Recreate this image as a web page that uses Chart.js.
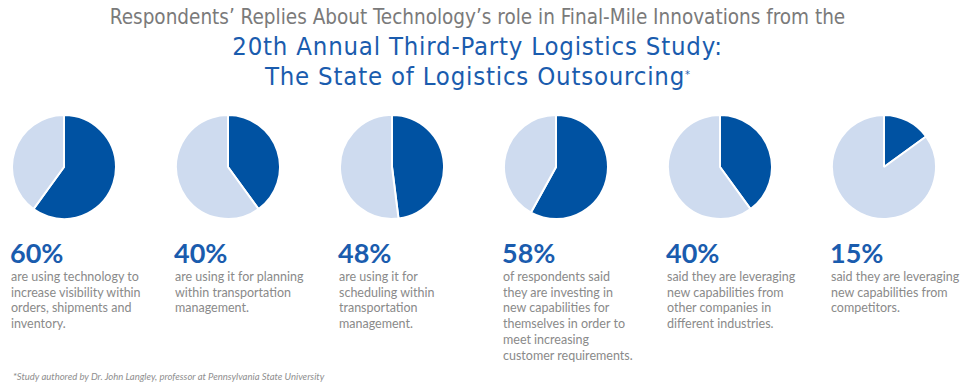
<!DOCTYPE html>
<html><head><meta charset="utf-8">
<script src="https://cdn.jsdelivr.net/npm/chart.js@4.4.1/dist/chart.umd.min.js"></script>
<style>
html,body{margin:0;padding:0;background:#fff;}
body{width:980px;height:382px;position:relative;overflow:hidden;font-family:Lato,"Open Sans",sans-serif;}
.t1{position:absolute;left:0;width:955px;top:5px;text-align:center;font-family:"DejaVu Sans Condensed",sans-serif;color:#7a7a7a;font-size:20.5px;line-height:24px;}
.t2{position:absolute;left:0;width:955px;text-align:center;font-family:"DejaVu Sans Condensed",sans-serif;color:#1a5cae;font-size:25.5px;line-height:30px;letter-spacing:0.8px;}
.t2 sup{font-size:11px;vertical-align:top;position:relative;top:-1px;letter-spacing:0;}
.pie{position:absolute;top:114px;width:106px;height:106px;}
.pct{position:absolute;top:238px;font-size:27px;line-height:30px;color:#1a5cae;font-weight:700;}
.desc{position:absolute;top:269px;font-size:12.5px;line-height:15.7px;color:#8a8a8a;width:160px;}
.foot{position:absolute;left:13px;top:371px;font-size:9.5px;font-style:italic;color:#8e8e8e;}
</style></head>
<body>
<div class="t1">Respondents’ Replies About Technology’s role in Final-Mile Innovations from the</div>
<div class="t2" style="top:31px">20th Annual Third-Party Logistics Study:</div>
<div class="t2" style="top:61px">The State of Logistics Outsourcing<sup>*</sup></div>
<div id="cols"></div>
<div class="foot">*Study authored by Dr. John Langley, professor at Pennsylvania State University</div>
<script>
const percents = [60, 40, 48, 58, 40, 15];
const pctLabels = ["60%", "40%", "48%", "58%", "40%", "15%"];
const descriptions = [
  ["are using technology to", "increase visibility within", "orders, shipments and", "inventory."],
  ["are using it for planning", "within transportation", "management."],
  ["are using it for", "scheduling within", "transportation", "management."],
  ["of respondents said", "they are investing in", "new capabilities for", "themselves in order to", "meet increasing", "customer requirements."],
  ["said they are leveraging", "new capabilities from", "other companies in", "different industries."],
  ["said they are leveraging", "new capabilities from", "competitors."]
];
const sliceColors = ["#0052a2", "#cedbef"];

const cols = document.getElementById('cols');
const leftEdges = [11, 175, 339, 503, 667, 831];
percents.forEach((p, i) => {
  const x = leftEdges[i];
  const c = document.createElement('canvas');
  c.className = 'pie';
  c.width = 106; c.height = 106;
  c.style.left = x + 'px';
  cols.appendChild(c);
  const pl = document.createElement('div');
  pl.className = 'pct'; pl.style.left = (x - 1) + 'px'; pl.textContent = pctLabels[i];
  cols.appendChild(pl);
  const d = document.createElement('div');
  d.className = 'desc'; d.style.left = x + 'px';
  d.innerHTML = descriptions[i].join('<br>');
  cols.appendChild(d);
  new Chart(c, {
    type: 'pie',
    data: { labels: ['Yes', 'Other'], datasets: [{ data: [p, 100 - p], backgroundColor: sliceColors, borderColor: '#ffffff', borderWidth: 2 }] },
    options: { responsive: false, animation: false, layout: { padding: 0 },
      plugins: { legend: { display: false }, tooltip: { enabled: false } } }
  });
});
</script>
</body></html>
